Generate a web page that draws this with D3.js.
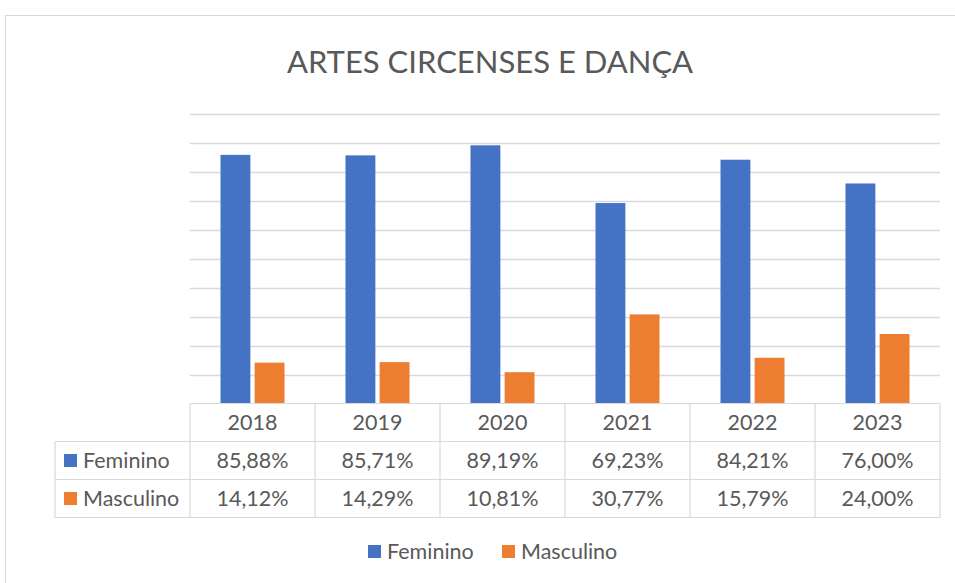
<!DOCTYPE html>
<html>
<head>
<meta charset="utf-8">
<script src="https://cdn.jsdelivr.net/npm/d3@7"></script>
<style>
  body { margin: 0; background: #fff; }
  text { font-family: Lato, "Open Sans", sans-serif; fill: #595959; }
</style>
</head>
<body>
<div id="chart"></div>
<script>
// data
var years = ["2018", "2019", "2020", "2021", "2022", "2023"];
var seriesNames = ["Feminino", "Masculino"];
var feminino = [0.8588, 0.8571, 0.8919, 0.6923, 0.8421, 0.7600];
var masculino = [0.1412, 0.1429, 0.1081, 0.3077, 0.1579, 0.2400];
var colors = ["#4472c4", "#ed7d31"];
var yTicks = [0, 0.1, 0.2, 0.3, 0.4, 0.5, 0.6, 0.7, 0.8, 0.9, 1.0];

var width = 955, height = 583,
  plotLeft = 190, plotRight = 940,
  plotTop = 114, base = 403.5,
  rowH = 38,
  tableLeft = 55,
  fontSize = "21.5px";

var fmt = function(v) { return (v * 100).toFixed(2).replace(".", ",") + "%"; };
var values = [feminino, masculino];

var svg = d3.select("#chart").append("svg")
  .attr("width", width)
  .attr("height", height);

// chart border
svg.append("rect")
  .attr("x", 5.5).attr("y", 15.5)
  .attr("width", 1000).attr("height", 600)
  .attr("fill", "#fff")
  .attr("stroke", "#d9d9d9");

svg.append("text")
  .attr("x", 490).attr("y", 73)
  .attr("text-anchor", "middle")
  .style("font-size", "31px")
  .text("ARTES CIRCENSES E DANÇA");

var x = d3.scaleBand().domain(years).range([plotLeft, plotRight]);
var xs = d3.scaleBand().domain(seriesNames).range([0, 64]).paddingInner(0.125);
var y = d3.scaleLinear().domain([0, 1]).range([base, plotTop]);

// gridlines
svg.append("g").selectAll("line")
  .data(yTicks.slice(1))
  .enter().append("line")
  .attr("x1", plotLeft).attr("x2", plotRight)
  .attr("y1", function(d) { return Math.round(y(d)) + 0.5; })
  .attr("y2", function(d) { return Math.round(y(d)) + 0.5; })
  .attr("stroke", "#d9d9d9")
  .attr("stroke-width", 1.5);

// bars
seriesNames.forEach(function(s, si) {
  svg.append("g").selectAll("rect")
    .data(values[si])
    .enter().append("rect")
    .attr("x", function(d, i) { return x(years[i]) + (x.bandwidth() - 64) / 2 + xs(s); })
    .attr("width", xs.bandwidth())
    .attr("y", function(d) { return y(d); })
    .attr("height", function(d) { return base - y(d); })
    .attr("fill", colors[si]);
});

// data table
var grid = svg.append("g").attr("stroke", "#d9d9d9").attr("stroke-width", 1.2);
var rowsY = [base, base + rowH, base + 2 * rowH, base + 3 * rowH];
grid.append("line").attr("x1", plotLeft).attr("x2", plotRight).attr("y1", rowsY[0]).attr("y2", rowsY[0]);
rowsY.slice(1).forEach(function(yy) {
  grid.append("line").attr("x1", tableLeft).attr("x2", plotRight).attr("y1", yy).attr("y2", yy);
});
var colEdges = years.map(function(d) { return x(d); }).concat([plotRight]);
colEdges.forEach(function(cx) {
  grid.append("line").attr("x1", cx).attr("x2", cx).attr("y1", rowsY[0]).attr("y2", rowsY[3]);
});
grid.append("line").attr("x1", tableLeft).attr("x2", tableLeft).attr("y1", rowsY[1]).attr("y2", rowsY[3]);

svg.append("g").selectAll("text")
  .data(years)
  .enter().append("text")
  .attr("x", function(d) { return x(d) + x.bandwidth() / 2; })
  .attr("y", base + rowH / 2 + 7.5)
  .attr("text-anchor", "middle")
  .style("font-size", fontSize)
  .text(function(d) { return d; });

seriesNames.forEach(function(s, si) {
  var cy = base + rowH * (si + 1) + rowH / 2;
  svg.append("rect")
    .attr("x", 64).attr("y", cy - 6.5)
    .attr("width", 13).attr("height", 13)
    .attr("fill", colors[si]);
  svg.append("text")
    .attr("x", 83).attr("y", cy + 7.5)
    .style("font-size", fontSize)
    .text(s);
  svg.append("g").selectAll("text")
    .data(values[si])
    .enter().append("text")
    .attr("x", function(d, i) { return x(years[i]) + x.bandwidth() / 2; })
    .attr("y", cy + 7.5)
    .attr("text-anchor", "middle")
    .style("font-size", fontSize)
    .text(fmt);
});

// legend
var legendX = [368, 502];
seriesNames.forEach(function(s, si) {
  svg.append("rect")
    .attr("x", legendX[si]).attr("y", 545)
    .attr("width", 13).attr("height", 13)
    .attr("fill", colors[si]);
  svg.append("text")
    .attr("x", legendX[si] + 19).attr("y", 559)
    .style("font-size", fontSize)
    .text(s);
});
</script>
</body>
</html>
